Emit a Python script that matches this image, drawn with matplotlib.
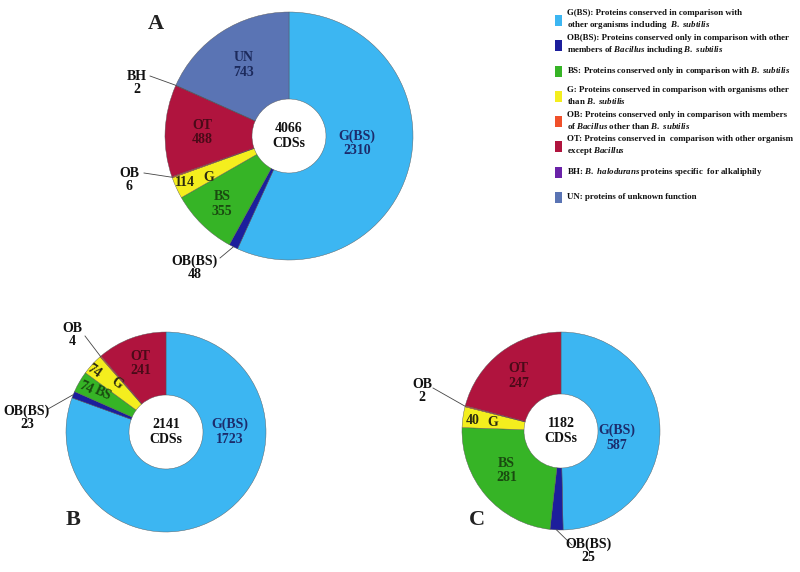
import numpy as np
import matplotlib.pyplot as plt
from matplotlib.patches import Rectangle

plt.rcParams['font.family'] = 'Liberation Serif'
plt.rcParams['font.weight'] = 'bold'
plt.rcParams['mathtext.fontset'] = 'custom'
plt.rcParams['mathtext.it'] = 'Liberation Serif:italic:bold'
plt.rcParams['mathtext.rm'] = 'Liberation Serif:bold'

# data
categories = ['G(BS)', 'OB(BS)', 'BS', 'G', 'OB', 'OT', 'BH', 'UN']
colors = ['#3cb6f2', '#1c1e9c', '#36b426', '#f4ee1e', '#f0502a', '#b0143e', '#6a22a8', '#5a74b4']
counts_a = [2310, 48, 355, 114, 6, 488, 2, 743]
counts_b = [1723, 23, 74, 74, 4, 241]
counts_c = [587, 25, 281, 40, 2, 247]
totals = [4066, 2141, 1182]
panels = ['A', 'B', 'C']

legend_texts = [
    'G(BS): Proteins conserved in comparison with\nother organisms including  $B.\\ subtilis$',
    'OB(BS): Proteins conserved only in comparison with other\nmembers of $Bacillus$ including $B.\\ subtilis$',
    'BS: Proteins conserved only in comparison with $B.\\ subtilis$',
    'G: Proteins conserved in comparison with organisms other\nthan $B.\\ subtilis$',
    'OB: Proteins conserved only in comparison with members\nof $Bacillus$ other than $B.\\ subtilis$',
    'OT: Proteins conserved in  comparison with other organism\nexcept $Bacillus$',
    'BH: $B.\\ halodurans$ proteins specific  for alkaliphily',
    'UN: proteins of unknown function',
]

H = 572
def Y(y):
    return H - y

fig = plt.figure(figsize=(8, 5.72), dpi=100)
ax = fig.add_axes([0, 0, 1, 1])

label_col = {'G(BS)': '#1c2c6c', 'UN': '#1c2a5c', 'OT': '#4a0a18',
             'BS': '#1a4a10', 'G': '#2a2a10'}
FS = 10


def donut(counts, center, radius, hole):
    cx, cy = center[0], Y(center[1])
    wedges, _ = ax.pie(counts, colors=colors[:len(counts)], startangle=90,
                       counterclock=False, center=(cx, cy), radius=radius,
                       frame=True,
                       wedgeprops=dict(width=radius - hole, edgecolor='#555555', linewidth=0.3))
    return wedges, cx, cy


def mid(w):
    return (w.theta1 + w.theta2) / 2.0


def put(wedges, cx, cy, radius, idx, rfrac, text, color, ang=None, rot=0):
    a = mid(wedges[idx]) if ang is None else ang
    x = cx + rfrac * radius * np.cos(np.radians(a))
    y = cy + rfrac * radius * np.sin(np.radians(a))
    ax.text(x, y, text, ha='center', va='center', fontsize=FS, color=color,
            linespacing=1.15, rotation=rot)


def outside(wedges, cx, cy, radius, idx, text, txy, start):
    a = np.radians(mid(wedges[idx]))
    ex = cx + radius * np.cos(a)
    ey = cy + radius * np.sin(a)
    ax.plot([start[0], ex], [Y(start[1]), ey], color='#444444', lw=0.6)
    ax.text(txy[0], Y(txy[1]), text, ha='center', va='center', fontsize=FS,
            color='#111111', linespacing=1.05)


# A
r = 124
w, cx, cy = donut(counts_a, (289, 136), r, 37)
put(w, cx, cy, r, 0, 0.55, 'G(BS)\n%d' % counts_a[0], label_col['G(BS)'], ang=-6)
put(w, cx, cy, r, 7, 0.68, 'UN\n%d' % counts_a[7], label_col['UN'])
put(w, cx, cy, r, 5, 0.70, 'OT\n%d' % counts_a[5], label_col['OT'])
put(w, cx, cy, r, 2, 0.77, 'BS\n%d' % counts_a[2], label_col['BS'])
put(w, cx, cy, r, 3, 0.92, str(counts_a[3]), label_col['G'], ang=204)
put(w, cx, cy, r, 3, 0.73, 'G', label_col['G'], ang=207)
ax.text(cx, cy, '%d\nCDSs' % totals[0], ha='center', va='center', fontsize=FS,
        color='#111111', linespacing=1.15)
outside(w, cx, cy, r, 6, 'BH\n%d' % counts_a[6], (137, 83), (150, 76))
outside(w, cx, cy, r, 4, 'OB\n%d' % counts_a[4], (129, 180), (144, 173))
outside(w, cx, cy, r, 1, 'OB(BS)\n%d' % counts_a[1], (195, 268), (220, 258))

# B
r = 100
w, cx, cy = donut(counts_b, (166, 432), r, 37)
put(w, cx, cy, r, 0, 0.64, 'G(BS)\n%d' % counts_b[0], label_col['G(BS)'], ang=0)
put(w, cx, cy, r, 5, 0.73, 'OT\n%d' % counts_b[5], label_col['OT'])
put(w, cx, cy, r, 3, 0.94, str(counts_b[3]), label_col['G'], ang=140, rot=-35)
put(w, cx, cy, r, 3, 0.69, 'G', label_col['G'], ang=135, rot=-35)
put(w, cx, cy, r, 2, 0.92, str(counts_b[2]), label_col['BS'], ang=151, rot=-25)
put(w, cx, cy, r, 2, 0.74, 'BS', label_col['BS'], ang=149, rot=-25)
ax.text(cx, cy, '%d\nCDSs' % totals[1], ha='center', va='center', fontsize=FS,
        color='#111111', linespacing=1.15)
outside(w, cx, cy, r, 4, 'OB\n%d' % counts_b[4], (72, 335), (85, 336))
outside(w, cx, cy, r, 1, 'OB(BS)\n%d' % counts_b[1], (27, 418), (48, 409))

# C
r = 99
w, cx, cy = donut(counts_c, (561, 431), r, 37)
put(w, cx, cy, r, 0, 0.57, 'G(BS)\n%d' % counts_c[0], label_col['G(BS)'], ang=-7)
put(w, cx, cy, r, 5, 0.70, 'OT\n%d' % counts_c[5], label_col['OT'])
put(w, cx, cy, r, 2, 0.68, 'BS\n%d' % counts_c[2], label_col['BS'], ang=216)
put(w, cx, cy, r, 3, 0.90, str(counts_c[3]), label_col['G'], ang=173.5)
put(w, cx, cy, r, 3, 0.69, 'G', label_col['G'], ang=173)
ax.text(cx, cy, '%d\nCDSs' % totals[2], ha='center', va='center', fontsize=FS,
        color='#111111', linespacing=1.15)
outside(w, cx, cy, r, 4, 'OB\n%d' % counts_c[4], (422, 391), (433, 388))
outside(w, cx, cy, r, 1, 'OB(BS)\n%d' % counts_c[1], (588, 551), (572, 545))

# panel letters
for name, pos in zip(panels, [(156, 24), (73, 520), (477, 520)]):
    ax.text(pos[0], Y(pos[1]), name, ha='center', va='center', fontsize=16, color='#222222')

# legend
leg_y = [20, 45, 71, 96, 121, 146, 172, 197]
for col, txt, yy in zip(colors, legend_texts, leg_y):
    ax.add_patch(Rectangle((555, Y(yy) - 5.5), 7, 11, facecolor=col, edgecolor='none'))
    ax.text(567, Y(yy), txt, ha='left', va='center', fontsize=6.4, color='#111111',
            linespacing=1.2)

ax.set_xlim(0, 800)
ax.set_ylim(0, H)
ax.set_aspect('equal')
ax.axis('off')
fig.savefig('out.png', dpi=100)
